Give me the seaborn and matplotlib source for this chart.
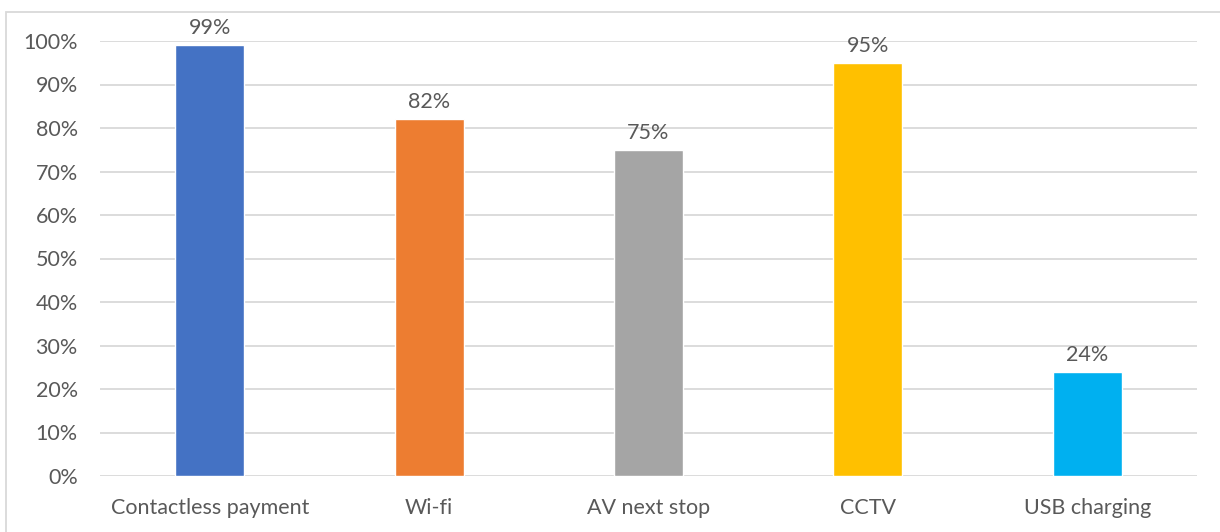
import matplotlib
matplotlib.use("Agg")
import matplotlib.pyplot as plt
import matplotlib.patches as mpatches
import seaborn as sns
import pandas as pd

# Share of vehicles equipped with each feature
features = ["Contactless payment", "Wi-fi", "AV next stop", "CCTV", "USB charging"]
shares = [0.99, 0.82, 0.75, 0.95, 0.24]
bar_colors = ["#4472C4", "#ED7D31", "#A5A5A5", "#FFC000", "#00B0F0"]
y_ticks = [0.0, 0.1, 0.2, 0.3, 0.4, 0.5, 0.6, 0.7, 0.8, 0.9, 1.0]

sns.set_theme(style="white")
plt.rcParams["font.family"] = ["Lato", "DejaVu Sans"]

text_color = "#595959"
grid_color = "#D9D9D9"
font_size = 15.5

df = pd.DataFrame({"feature": features, "share": shares})

fig = plt.figure(figsize=(12.2, 5.32), dpi=100)
ax = fig.add_axes([100 / 1220, 1 - 476 / 532, 1097 / 1220, 435 / 532])

sns.barplot(data=df, x="feature", y="share", hue="feature",
            palette=bar_colors, width=0.314, legend=False, ax=ax,
            saturation=1, zorder=3)

ax.set_ylim(0, 1.0)
ax.set_yticks(y_ticks)
ax.set_yticklabels([f"{int(round(t * 100))}%" for t in y_ticks])
ax.set_xlim(-0.5, len(features) - 0.5)
ax.set_xlabel("")
ax.set_ylabel("")

for s in ax.spines.values():
    s.set_visible(False)
ax.yaxis.grid(True, color=grid_color, linewidth=1.3, zorder=0)
ax.set_axisbelow(True)
ax.tick_params(axis="both", length=0, colors=text_color, labelsize=font_size)
ax.tick_params(axis="y", pad=16)
ax.tick_params(axis="x", pad=16)

for container in ax.containers:
    ax.bar_label(container, labels=[f"{int(round(v * 100))}%" for v in container.datavalues],
                 padding=5, color=text_color, fontsize=font_size, clip_on=False)

# Chart frame
frame = mpatches.Rectangle((6 / 1220, -0.1), 1.2, 1 - 12 / 532 + 0.1,
                           transform=fig.transFigure, fill=False,
                           edgecolor=grid_color, linewidth=1.3)
fig.patches.append(frame)

fig.savefig("out.png", dpi=100, facecolor="white")
